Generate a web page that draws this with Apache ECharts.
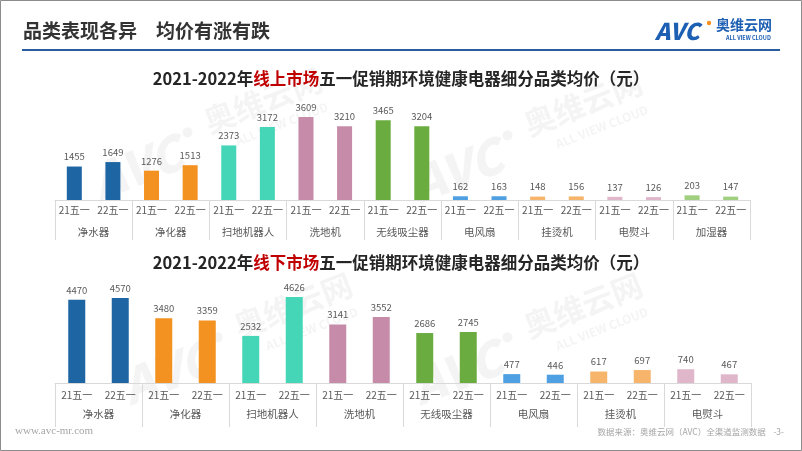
<!DOCTYPE html>
<html><head><meta charset="utf-8">
<script src="https://cdn.jsdelivr.net/npm/echarts@6/dist/echarts.min.js"></script>
<style>html,body{margin:0;padding:0;background:#fff}#c{width:802px;height:451px}</style>
</head><body><div id="c"></div>
<script>
// ---- data ----
const subLabels = ['21五一', '22五一'];
const onlineGroups = ['净水器', '净化器', '扫地机器人', '洗地机', '无线吸尘器', '电风扇', '挂烫机', '电熨斗', '加湿器'];
const online21 = [1455, 1276, 2373, 3609, 3465, 162, 148, 137, 203];
const online22 = [1649, 1513, 3172, 3210, 3204, 163, 156, 126, 147];
const offlineGroups = ['净水器', '净化器', '扫地机器人', '洗地机', '无线吸尘器', '电风扇', '挂烫机', '电熨斗'];
const offline21 = [4470, 3480, 2532, 3141, 2686, 477, 617, 740];
const offline22 = [4570, 3359, 4626, 3552, 2745, 446, 697, 467];

// ---- styles ----
const groupColors = {
  '净水器': '#1e65a3', '净化器': '#f39220', '扫地机器人': '#45d6b8', '洗地机': '#c68ba9',
  '无线吸尘器': '#6aac3f', '电风扇': '#4fa0e2', '挂烫机': '#f7b56c', '电熨斗': '#dfb6ca', '加湿器': '#9fcf7f'
};
const FONT = '"Noto Sans CJK SC", "Noto Sans", sans-serif';
const txt = '#595959';
const sep = '#d9d9d9';

function build(groups, v21, v22) {
  const cats = [], data = [];
  groups.forEach((g, i) => {
    cats.push(subLabels[0], subLabels[1]);
    data.push({ value: v21[i], itemStyle: { color: groupColors[g] } });
    data.push({ value: v22[i], itemStyle: { color: groupColors[g] } });
  });
  return { cats, data };
}
const on = build(onlineGroups, online21, online22);
const off = build(offlineGroups, offline21, offline22);

const WMC = 'rgba(110,110,110,0.08)';
function wm(x, y) {
  return {
    type: 'group', x: x, y: y, rotation: 0.37, silent: true, z: 0,
    children: [
      { type: 'text', style: { text: 'AVC', x: -140, y: -26, font: 'italic 900 48px ' + FONT, fill: WMC } },
      { type: 'circle', shape: { cx: -34, cy: -16, r: 5 }, style: { fill: WMC } },
      { type: 'text', style: { text: '奥维云网', x: -14, y: -34, font: 'bold 31px ' + FONT, fill: WMC } },
      { type: 'text', style: { text: 'ALL VIEW CLOUD', x: 8, y: 4, font: 'bold 12px ' + FONT, fill: WMC } }
    ]
  };
}

const chart = echarts.init(document.getElementById('c'), null, { renderer: 'canvas' });
const titleRich = { b: { fontSize: 16.5, fontWeight: 'bold', color: '#262626', fontFamily: FONT }, r: { fontSize: 16.5, fontWeight: 'bold', color: '#c00000', fontFamily: FONT } };
const option = {
  animation: false,
  backgroundColor: '#fff',
  textStyle: { fontFamily: FONT },
  title: [
    { text: '{b|2021-2022年}{r|线上市场}{b|五一促销期环境健康电器细分品类均价（元）}', left: 'center', top: 65, textStyle: { rich: titleRich } },
    { text: '{b|2021-2022年}{r|线下市场}{b|五一促销期环境健康电器细分品类均价（元）}', left: 'center', top: 249, textStyle: { rich: titleRich } }
  ],
  grid: [
    { left: 55, right: 52, top: 108, bottom: 251 },
    { left: 55, right: 51, top: 290, bottom: 68 }
  ],
  xAxis: [
    { gridIndex: 0, type: 'category', data: on.cats, axisLine: { lineStyle: { color: sep } }, axisTick: { show: false },
      axisLabel: { interval: 0, fontSize: 10, color: txt, margin: 5 } },
    { gridIndex: 0, type: 'category', data: onlineGroups, position: 'bottom', axisLine: { show: false },
      axisTick: { show: true, interval: 0, length: 40, lineStyle: { color: sep } },
      axisLabel: { interval: 0, fontSize: 10.5, color: txt, margin: 27 } },
    { gridIndex: 1, type: 'category', data: off.cats, axisLine: { lineStyle: { color: sep } }, axisTick: { show: false },
      axisLabel: { interval: 0, fontSize: 10, color: txt, margin: 7 } },
    { gridIndex: 1, type: 'category', data: offlineGroups, position: 'bottom', axisLine: { show: false },
      axisTick: { show: true, interval: 0, length: 44, lineStyle: { color: sep } },
      axisLabel: { interval: 0, fontSize: 10.5, color: txt, margin: 26 } }
  ],
  yAxis: [
    { gridIndex: 0, type: 'value', min: 0, max: 4000, show: false },
    { gridIndex: 1, type: 'value', min: 0, max: 5000, show: false }
  ],
  series: [
    { type: 'bar', xAxisIndex: 0, yAxisIndex: 0, barWidth: 15, data: on.data, z: 3,
      label: { show: true, position: 'top', fontSize: 9.5, color: txt, distance: 5 } },
    { type: 'bar', xAxisIndex: 2, yAxisIndex: 1, barWidth: 17, data: off.data, z: 3,
      label: { show: true, position: 'top', fontSize: 9.5, color: txt, distance: 5 } }
  ],
  graphic: [
    wm(225, 135), wm(545, 138), wm(255, 340), wm(545, 340),
    { type: 'rect', shape: { x: 0.5, y: 0.5, width: 801, height: 450 }, style: { fill: 'none', stroke: '#8c8c8c', lineWidth: 1 }, silent: true },
    { type: 'text', x: 23, y: 21, style: { text: '品类表现各异　均价有涨有跌', font: 'bold 19px ' + FONT, fill: '#333333' } },
    { type: 'rect', shape: { x: 22, y: 49, width: 758, height: 2 }, style: { fill: '#2a5d9f' } },
    { type: 'text', x: 655, y: 20, style: { text: 'AVC', font: 'italic 900 23px ' + FONT, fill: '#1d5fb3' } },
    { type: 'circle', shape: { cx: 709, cy: 23, r: 2.2 }, style: { fill: '#f39220' } },
    { type: 'text', x: 716, y: 18, style: { text: '奥维云网', font: 'bold 14px ' + FONT, fill: '#1d5fb3' } },
    { type: 'text', x: 726, y: 35, style: { text: 'ALL VIEW CLOUD', font: 'bold 5.5px ' + FONT, fill: '#1d5fb3' } },
    { type: 'text', x: 15, y: 426, style: { text: 'www.avc-mr.com', font: '11px "Liberation Serif", serif', fill: '#a6a6a6' } },
    { type: 'text', x: 784, y: 428, style: { text: '数据来源：奥维云网（AVC）全渠道监测数据    -3-', font: '8.5px ' + FONT, fill: '#a6a6a6', align: 'right' } }
  ]
};
chart.setOption(option);
</script></body></html>
